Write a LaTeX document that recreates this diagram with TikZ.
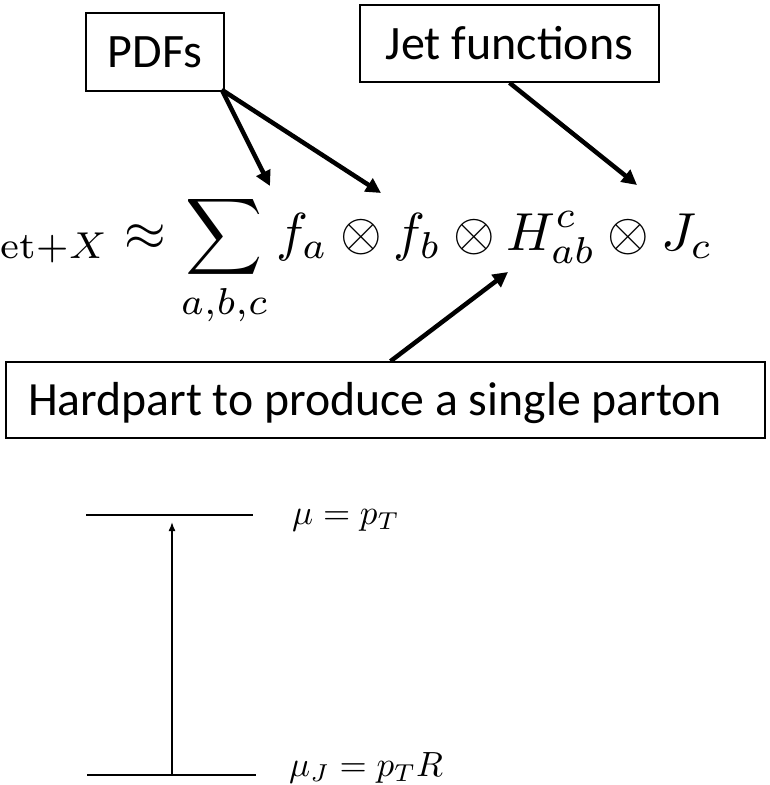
\documentclass[tikz,border=0pt]{standalone}
\usepackage{fontspec}
\usepackage{amsmath}
\usepackage{graphicx}
\newfontfamily\carlito{Carlito}
\usetikzlibrary{arrows.meta,calc}
\tikzset{
  labelbox/.style={draw=black, line width=1.6pt, inner sep=0pt,
    font=\carlito\fontsize{48}{58}\selectfont},
  bigarrow/.style={line width=4.5pt, -{Triangle[length=15pt,width=15pt]}},
  scaleline/.style={line width=1.8pt},
  scalearrow/.style={line width=1.5pt, -{Latex[length=9pt,width=7pt]}},
  mathlabel/.style={anchor=base west, inner sep=0pt}
}
\begin{document}
\begin{tikzpicture}[x=1pt,y=-1pt]
\useasboundingbox (0,0) rectangle (769,785);
% label boxes
\node[labelbox, minimum width=138pt, minimum height=78pt] (pdfs) at (155,52) {PDFs};
\node[labelbox, minimum width=299pt, minimum height=77pt] (jet) at (509.5,43.5) {Jet functions};
\node[labelbox, text height=31pt, text depth=0pt, minimum height=76pt] (hard) at (385.5,400)
      {\makebox[759pt][l]{\hspace*{22pt}\resizebox{694pt}{!}{Hardpart to produce a single parton}}};
% equation
\node[mathlabel] (eq) at (0,250)
  {\scalebox{5.35}{$\displaystyle {}_{\mathrm{et}+X}\approx\sum_{a,b,c} f_a\otimes f_b\otimes H^c_{ab}\otimes J_c$}};
% arrow targets
\coordinate (tfa) at (270,186);
\coordinate (tfb) at (381,193);
\coordinate (tJ) at (637,185);
\coordinate (tH) at (508,272);
\draw[bigarrow] ($(pdfs.south east)+(-3,-2)$) -- (tfa);
\draw[bigarrow] ($(pdfs.south east)+(-3,-2)$) -- (tfb);
\draw[bigarrow] (jet.south) -- (tJ);
\draw[bigarrow] ($(hard.north)+(5,0)$) -- (tH);
% scale diagram
\coordinate (ta) at (86,515);
\coordinate (tb) at (253,515);
\coordinate (ba) at (87,775);
\coordinate (bb) at (256,775);
\coordinate (arrb) at (172,775);
\coordinate (arrt) at (172,522);
\draw[scaleline] (ta) -- (tb);
\draw[scaleline] (ba) -- (bb);
\draw[scalearrow] (arrb) -- (arrt);
\node[mathlabel] (muT) at (292,524) {\scalebox{3.5}{$\mu = p_T$}};
\node[mathlabel] (muJ) at (289,776) {\scalebox{3.5}{$\mu_J = p_T R$}};
\end{tikzpicture}
\end{document}
